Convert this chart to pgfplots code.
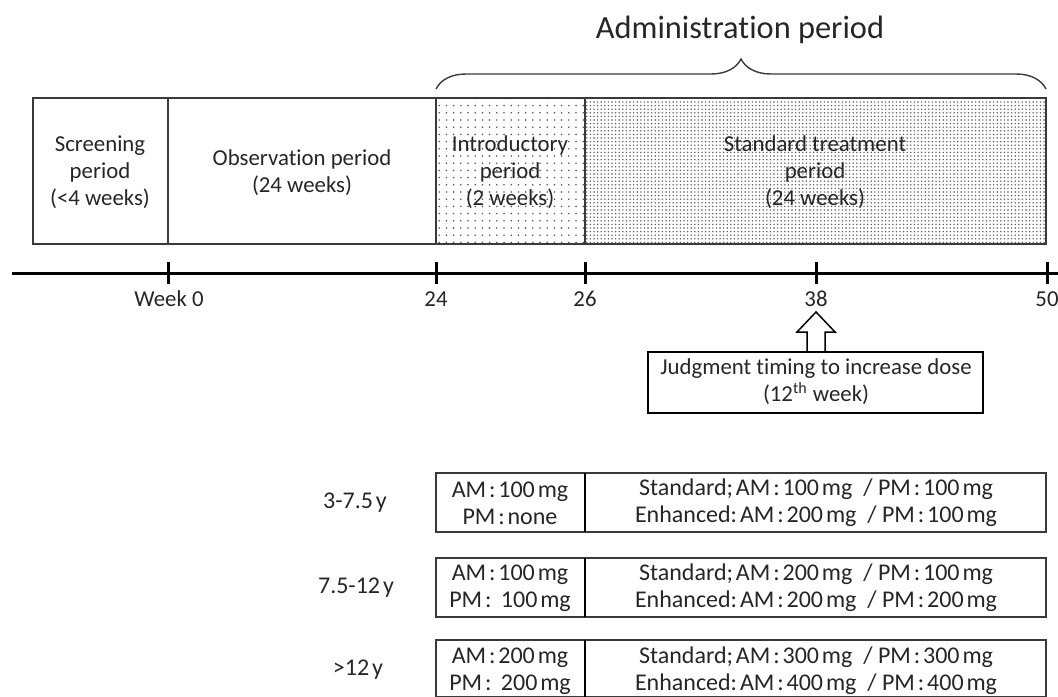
\documentclass[border=0pt]{standalone}
\usepackage{fontspec}
\setmainfont{Carlito}[Ligatures=NoCommon]
\usepackage{pgfplots}
\pgfplotsset{compat=1.18}
\usetikzlibrary{patterns,decorations.pathreplacing}
\pgfdeclarepatternformonly{sparsedots}{\pgfqpoint{-1pt}{-1pt}}{\pgfqpoint{1pt}{1pt}}{\pgfqpoint{3.6pt}{3.6pt}}{\pgfpathcircle{\pgfqpoint{0pt}{0pt}}{0.45pt}\pgfusepath{fill}}
\pgfdeclarepatternformonly{densedots}{\pgfqpoint{-1pt}{-1pt}}{\pgfqpoint{1pt}{1pt}}{\pgfqpoint{1.8pt}{1.8pt}}{\pgfpathcircle{\pgfqpoint{0pt}{0pt}}{0.4pt}\pgfusepath{fill}}
\definecolor{boxc}{HTML}{3A3A3A}
\definecolor{txtc}{HTML}{262626}
\definecolor{dotc}{HTML}{5A5A5A}
\newcommand{\s}{\hspace{0.12em}}
\tikzset{t/.style={text=txtc, align=center, inner sep=0pt, font=\fontsize{11.4}{13.5}\selectfont},
  b/.style={text=txtc, align=center, inner sep=0pt, font=\fontsize{12}{13.5}\selectfont}}
\begin{document}
\begin{tikzpicture}
\begin{axis}[at={(0,0)}, anchor=south west, scale only axis,
  width=529pt, height=348pt, xmin=0, xmax=1058, ymin=0, ymax=696,
  y dir=reverse, hide axis, clip=false]
% top phase boxes
\addplot[draw=none, pattern=sparsedots, pattern color=dotc] coordinates {(436,98) (585,98) (585,244) (436,244)} -- cycle;
\addplot[draw=none, pattern=densedots, pattern color=dotc] coordinates {(585,98) (1046,98) (1046,244) (585,244)} -- cycle;
\addplot[draw=boxc, line width=0.75pt] coordinates {(33,98) (1046,98) (1046,244) (33,244)} -- cycle;
\addplot[draw=boxc, line width=0.75pt] coordinates {(168,98) (168,244)};
\addplot[draw=boxc, line width=0.75pt] coordinates {(436,98) (436,244)};
\addplot[draw=boxc, line width=0.75pt] coordinates {(585,98) (585,244)};
\node[t] at (axis cs:100,172) {Screening\\period\\(<4 weeks)};
\node[t] at (axis cs:302,173) {Observation period\\(24 weeks)};
\node[t] at (axis cs:510,172) {Introductory\\period\\(2 weeks)};
\node[t] at (axis cs:815,172) {Standard treatment\\period\\(24 weeks)};
% brace and title
\draw[boxc, line width=0.7pt, decorate, decoration={brace, amplitude=15pt}] (axis cs:436,89) -- (axis cs:1046,89);
\node[t, font=\fontsize{16.2}{18}\selectfont] at (axis cs:740,30) {Administration period};
% time axis
\addplot[black, line width=1.5pt] coordinates {(12,273) (1058,273)};
\addplot[black, line width=1.5pt] coordinates {(168,262) (168,284)};
\addplot[black, line width=1.5pt] coordinates {(436,262) (436,284)};
\addplot[black, line width=1.5pt] coordinates {(585,262) (585,284)};
\addplot[black, line width=1.5pt] coordinates {(816,262) (816,284)};
\addplot[black, line width=1.5pt] coordinates {(1047,262) (1047,284)};
\node[t] at (axis cs:169,299) {Week 0};
\node[t] at (axis cs:436,299) {24};
\node[t] at (axis cs:585,299) {26};
\node[t] at (axis cs:816,299) {38};
\node[t] at (axis cs:1047,299) {50};
% arrow and judgment box
\addplot[draw=black, line width=0.75pt, fill=white] coordinates {(807,352) (807,332) (797,332) (816,312) (835,332) (825,332) (825,352)};
\addplot[draw=black, line width=0.75pt, fill=white] coordinates {(648,352) (983,352) (983,413) (648,413)} -- cycle;
\node[t] at (axis cs:816,382) {Judgment timing to increase dose\\(12\textsuperscript{th} week)};
% dose boxes
\addplot[draw=boxc, line width=0.75pt] coordinates {(436,473) (1046,473) (1046,532) (436,532)} -- cycle;
\addplot[draw=black, line width=0.9pt] coordinates {(585,473) (585,532)};
\addplot[draw=boxc, line width=0.75pt] coordinates {(436,558) (1046,558) (1046,617) (436,617)} -- cycle;
\addplot[draw=black, line width=0.9pt] coordinates {(585,558) (585,617)};
\addplot[draw=boxc, line width=0.75pt] coordinates {(436,640) (1046,640) (1046,697) (436,697)} -- cycle;
\addplot[draw=black, line width=0.9pt] coordinates {(585,640) (585,697)};
\node[b] at (axis cs:355,503) {3-7.5\s y};
\node[b] at (axis cs:356,588) {7.5-12\s y};
\node[b] at (axis cs:358,670) {>12\s y};
\node[b] at (axis cs:510,503) {AM\s:\s 100\s mg\\PM\s:\s none};
\node[b] at (axis cs:510,588) {AM\s:\s 100\s mg\\PM\s:\ \,100\s mg};
\node[b] at (axis cs:510,671) {AM\s:\s 200\s mg\\PM\s:\ \,200\s mg};
\node[b] at (axis cs:816,503) {Standard;\s AM\s:\s 100\s mg\ \ /\ PM\s:\s 100\s mg\\Enhanced:\s AM\s:\s 200\s mg\ \ /\ PM\s:\s 100\s mg};
\node[b] at (axis cs:816,588) {Standard;\s AM\s:\s 200\s mg\ \ /\ PM\s:\s 100\s mg\\Enhanced:\s AM\s:\s 200\s mg\ \ /\ PM\s:\s 200\s mg};
\node[b] at (axis cs:816,671) {Standard;\s AM\s:\s 300\s mg\ \ /\ PM\s:\s 300\s mg\\Enhanced:\s AM\s:\s 400\s mg\ \ /\ PM\s:\s 400\s mg};
\end{axis}
\pgfresetboundingbox
\path[use as bounding box] (0,0) rectangle (529pt,348pt);
\end{tikzpicture}
\end{document}
